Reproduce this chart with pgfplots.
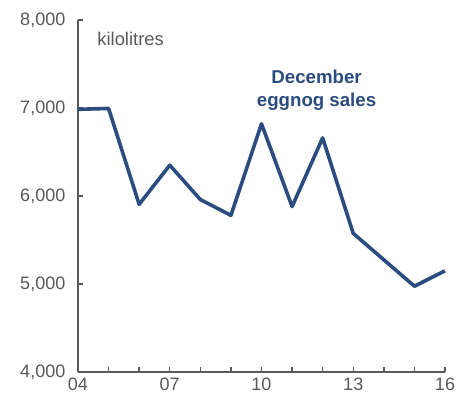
\documentclass[border=0pt]{standalone}
\usepackage{pgfplots}
\pgfplotsset{compat=1.18}
\usepackage{fontspec}
\setmainfont{Liberation Sans}
\definecolor{eggblue}{HTML}{2B4C7E}
\definecolor{axisgray}{HTML}{595959}

\begin{document}
\begin{tikzpicture}[x=0.75pt,y=0.75pt]
\begin{axis}[
  at={(0,0)}, anchor=south west,
  scale only axis,
  width=275.25pt, height=264pt,
  xmin=4, xmax=16, ymin=4000, ymax=8000,
  axis x line=bottom, axis y line=left,
  axis line style={axisgray, line width=1.4pt, -},
  xtick={4,...,16},
  xticklabels={04,,,07,,,10,,,13,,,16},
  ytick={4000,5000,6000,7000,8000},
  tick style={axisgray, line width=1.1pt},
  major tick length=4pt,
  tick align=inside,
  /pgf/number format/1000 sep={,},
  /pgf/number format/assume math mode=true,
  tick label style={text=axisgray, font=\fontsize{13.5}{16}\selectfont},
  xticklabel style={yshift=-1pt},
  yticklabel style={xshift=-6pt},
  clip=false,
]
% December eggnog sales, kilolitres
\addplot[eggblue, line width=2.7pt, line join=round] coordinates {
  (4,6985) (5,6995) (6,5905) (7,6350) (8,5960) (9,5780)
  (10,6820) (11,5880) (12,6660) (13,5575) (14,5275) (15,4975) (16,5150)
};
\node[anchor=west, text=axisgray, font=\fontsize{13.8}{16}\selectfont]
  at (axis cs:4.48,7780) {kilolitres};
\node[align=center, text=eggblue, font=\bfseries\fontsize{14}{17.3}\selectfont]
  at (axis cs:11.8,7200) {December\\eggnog sales};
\end{axis}
\path[use as bounding box] (-78,-28) rectangle (389,372);
\end{tikzpicture}
\end{document}
